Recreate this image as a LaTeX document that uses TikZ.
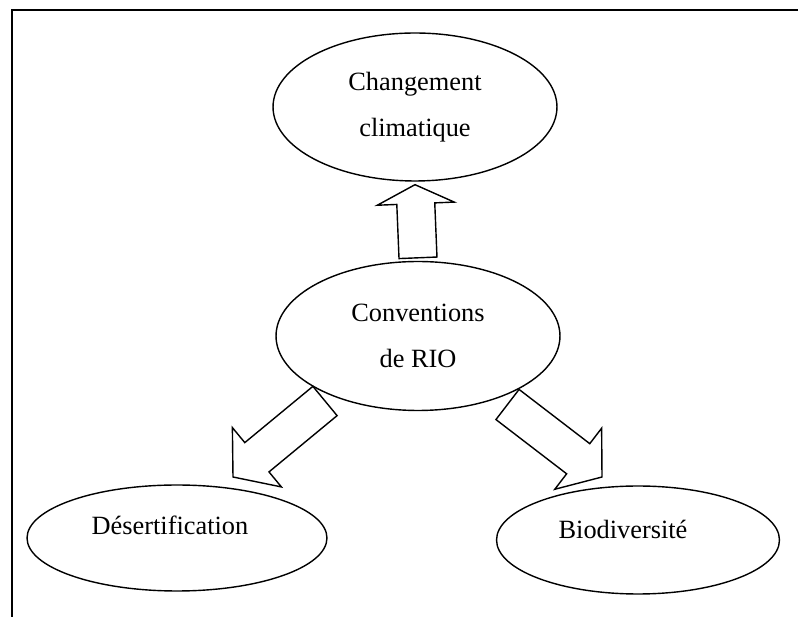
\documentclass[tikz,border=0pt]{standalone}
\usepackage{fontspec}
\setmainfont{Liberation Serif}
\usetikzlibrary{positioning,calc,shapes.geometric}

% block arrow: start, tip, head length
\newcommand{\blockarrow}[3]{%
	\path ($(#2)!#3!(#1)$) coordinate (hb);
	\draw[arrowbox] ($(#1)!0.38cm!90:(#2)$) -- ($(hb)!0.38cm!90:(#2)$) -- ($(hb)!0.77cm!90:(#2)$) -- (#2)
		-- ($(hb)!0.77cm!-90:(#2)$) -- ($(hb)!0.38cm!-90:(#2)$) -- ($(#1)!0.38cm!-90:(#2)$) -- cycle;
}

\begin{document}
\begin{tikzpicture}[
						x=0.02cm, y=-0.02cm,
						font=\fontsize{15pt}{26pt}\selectfont,
						bulle/.style={ellipse, draw=black, line width=0.8pt, inner sep=0pt, align=center},
						arrowbox/.style={draw=black, line width=0.8pt, fill=white},
						cadre/.style={draw=black, line width=1.2pt},
						]
						\useasboundingbox (0,0) rectangle (798,617);
						\draw[cadre] (12,617) -- (12,10) -- (798,10);

						%Nodes
						\node[bulle, minimum width=5.68cm, minimum height=2.96cm]      (clim) 	at 	(415,107)           {Changement\\climatique};
						\node[bulle, minimum width=5.68cm, minimum height=2.98cm]      (rio) 	at 	(418,336)           {Conventions\\de RIO};
						\node[bulle, minimum width=6cm, minimum height=2.12cm,
							label={[xshift=-0.14cm, yshift=0.26cm]center:Désertification}]      (des) 	at 	(177,538)           {};
						\node[bulle, minimum width=5.66cm, minimum height=2.16cm,
							label={[xshift=-0.3cm, yshift=0.21cm]center:Biodiversité}]      (bio) 	at 	(638,540)           {};

						%Arrows
						\coordinate (upS) at ($(rio.north)+(0,-3)$);
						\coordinate (upT) at ($(clim.south)+(0,3)$);
						\coordinate (leftS) at ($(rio.center)+(-93,65)$);
						\coordinate (leftT) at ($(des.center)+(56,-61)$);
						\coordinate (rightS) at ($(rio.center)+(89.5,68.5)$);
						\coordinate (rightT) at ($(bio.center)+(-36,-63)$);
						\blockarrow{upS}{upT}{0.38cm}
						\blockarrow{leftS}{leftT}{0.62cm}
						\blockarrow{rightS}{rightT}{0.6cm}
\end{tikzpicture}
\end{document}
